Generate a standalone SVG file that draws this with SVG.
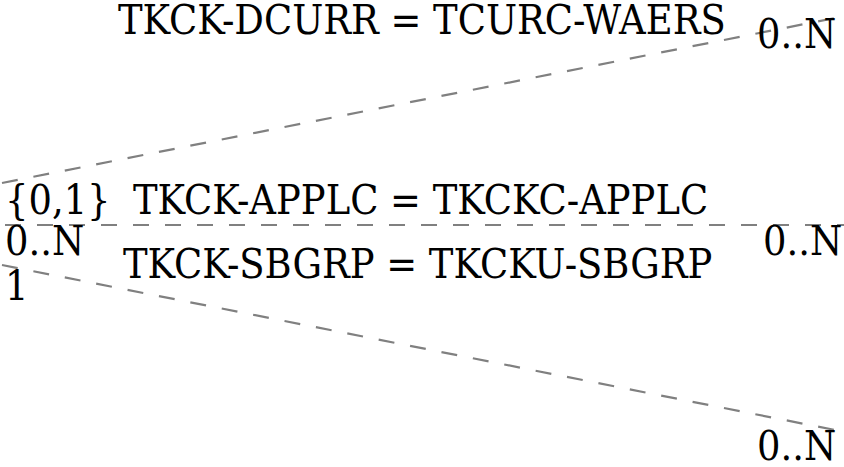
<svg xmlns="http://www.w3.org/2000/svg" width="844" height="467" viewBox="0 0 844 467">
<style>
.c{stroke:#808080;stroke-width:2.2;stroke-dasharray:16,16;fill:none}
text{font-family:"DejaVu Serif Condensed","DejaVu Serif",serif;font-stretch:condensed;font-size:41px;fill:#000}
</style>
<rect width="844" height="467" fill="#fff"/>
<g id="connectors">
<line class="c" x1="2" y1="183" x2="840" y2="17"/>
<line class="c" x1="5" y1="225" x2="844" y2="225"/>
<line class="c" x1="2" y1="265" x2="840" y2="431"/>
</g>
<g id="labels">
<text x="118" y="34">TKCK-DCURR = TCURC-WAERS</text>
<text x="757" y="48">0..N</text>
<text x="5" y="214">{0,1}</text>
<text x="133" y="214">TKCK-APPLC = TKCKC-APPLC</text>
<text x="5" y="255">0..N</text>
<text x="763" y="255">0..N</text>
<text x="123" y="278">TKCK-SBGRP = TKCKU-SBGRP</text>
<text x="5" y="300">1</text>
<text x="757" y="460">0..N</text>
</g>
</svg>
